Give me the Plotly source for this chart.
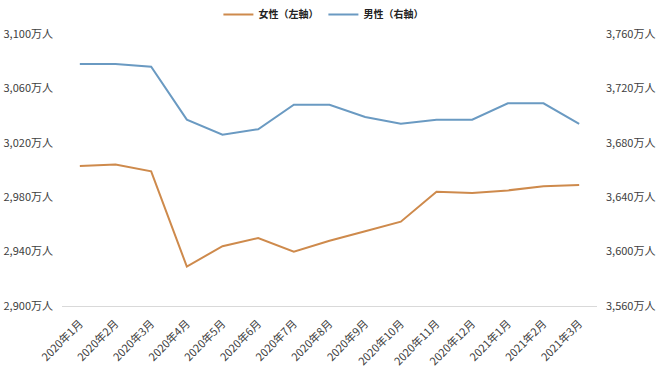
import plotly.graph_objects as go

months = ["2020年1月", "2020年2月", "2020年3月", "2020年4月", "2020年5月", "2020年6月",
          "2020年7月", "2020年8月", "2020年9月", "2020年10月", "2020年11月", "2020年12月",
          "2021年1月", "2021年2月", "2021年3月"]
women = [3003, 3004, 2999, 2929, 2944, 2950, 2940, 2948, 2955, 2962, 2984, 2983, 2985, 2988, 2989]
men = [3738, 3738, 3736, 3697, 3686, 3690, 3708, 3708, 3699, 3694, 3697, 3697, 3709, 3709, 3694]

left_range = [2900, 3100]
right_range = [3560, 3760]

FONT = "Noto Sans CJK JP"
ORANGE = "#CE8A4C"
BLUE = "#6A9AC2"

fig = go.Figure()
fig.add_trace(go.Scatter(x=months, y=women, name="女性（左軸）", mode="lines",
                         line=dict(color=ORANGE, width=2), yaxis="y"))
fig.add_trace(go.Scatter(x=months, y=men, name="男性（右軸）", mode="lines",
                         line=dict(color=BLUE, width=2), yaxis="y2"))

fig.update_layout(
    width=660, height=371,
    margin=dict(l=62, r=63, t=34, b=65),
    paper_bgcolor="white", plot_bgcolor="white",
    font=dict(family=FONT, size=11, color="#404040"),
    showlegend=True,
    legend=dict(orientation="h", x=0.49, xanchor="center", xref="container",
                y=1.0, yanchor="top", yref="container",
                font=dict(family=FONT, size=10, color="#222222", weight="bold"),
                itemwidth=30, bgcolor="rgba(0,0,0,0)"),
    xaxis=dict(type="category", range=[-0.5, len(months) - 0.5], tickangle=-45,
               showgrid=False, showline=True, automargin=False,
               linecolor="#D9D9D9", linewidth=1, ticks="", ticklabelstandoff=6,
               tickfont=dict(size=11, color="#404040"), zeroline=False),
    yaxis=dict(range=left_range, dtick=40, tick0=2900, tickformat=",", ticksuffix="万人",
               showgrid=False, zeroline=False, showline=False, ticks="", automargin=False,
               tickfont=dict(size=11, color="#404040"), ticklabelstandoff=8),
    yaxis2=dict(range=right_range, dtick=40, tick0=3560, tickformat=",", ticksuffix="万人",
                overlaying="y", side="right", showgrid=False, zeroline=False, showline=False,
                ticks="", automargin=False, tickfont=dict(size=11, color="#404040"),
                ticklabelstandoff=8),
)

fig.write_html("out.html", config={"displayModeBar": False},
               post_script="document.body.style.margin='0';document.body.style.overflow='hidden';")
